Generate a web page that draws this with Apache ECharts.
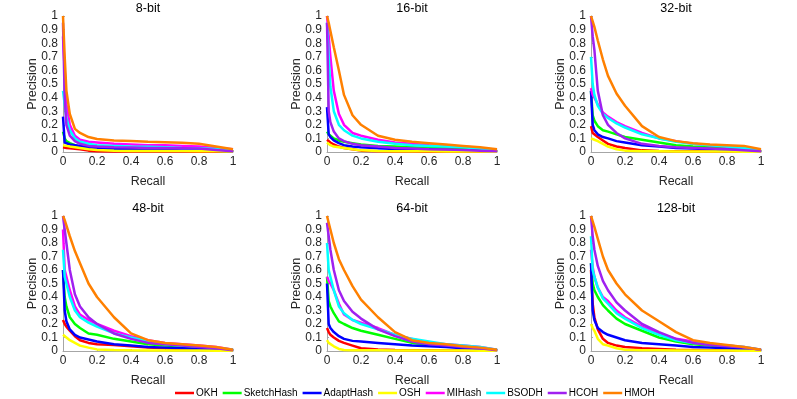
<!DOCTYPE html>
<html>
<head>
<meta charset="utf-8">
<script src="https://cdn.jsdelivr.net/npm/echarts@6/dist/echarts.min.js"></script>
<style>
  html, body { margin: 0; padding: 0; background: #fff; }
  #chart { width: 797px; height: 399px; }
</style>
</head>
<body>
<div id="chart"></div>
<script>
const recall = [0, 0.01, 0.02, 0.04, 0.07, 0.1, 0.15, 0.2, 0.3, 0.4, 0.5, 0.6, 0.7, 0.8, 0.9, 1]
const methods = ['OKH', 'SketchHash', 'AdaptHash', 'OSH', 'MIHash', 'BSODH', 'HCOH', 'HMOH']
const panelTitles = ['8-bit', '16-bit', '32-bit', '48-bit', '64-bit', '128-bit']

// precision per method, same order as methods
const bits8 = [
  [0.035, 0.033, 0.03, 0.027, 0.023, 0.02, 0.01, 0.005, 0.004, 0.003, 0.003, 0.003, 0.003, 0.002, 0.002, 0.001],
  [0.15, 0.1, 0.08, 0.065, 0.05, 0.04, 0.03, 0.025, 0.02, 0.018, 0.016, 0.015, 0.013, 0.012, 0.01, 0.005],
  [0.26, 0.07, 0.06, 0.055, 0.05, 0.045, 0.035, 0.03, 0.025, 0.02, 0.02, 0.018, 0.016, 0.014, 0.01, 0.005],
  [0.05, 0.048, 0.045, 0.04, 0.035, 0.03, 0.02, 0.015, 0.01, 0.008, 0.008, 0.007, 0.007, 0.006, 0.005, 0.003],
  [0.85, 0.6, 0.35, 0.2, 0.12, 0.09, 0.075, 0.07, 0.06, 0.055, 0.05, 0.05, 0.045, 0.04, 0.03, 0.02],
  [0.45, 0.35, 0.25, 0.16, 0.1, 0.075, 0.06, 0.05, 0.045, 0.04, 0.038, 0.035, 0.03, 0.028, 0.022, 0.01],
  [0.95, 0.4, 0.2, 0.12, 0.08, 0.06, 0.045, 0.04, 0.035, 0.033, 0.03, 0.03, 0.028, 0.025, 0.015, 0.005],
  [1, 0.7, 0.45, 0.28, 0.17, 0.14, 0.11, 0.095, 0.085, 0.08, 0.075, 0.072, 0.068, 0.06, 0.04, 0.02]
]
const bits16 = [
  [0.09, 0.08, 0.07, 0.055, 0.04, 0.03, 0.02, 0.01, 0.005, 0.003, 0.003, 0.002, 0.002, 0.002, 0.002, 0.001],
  [0.15, 0.13, 0.12, 0.1, 0.085, 0.075, 0.065, 0.055, 0.045, 0.04, 0.035, 0.03, 0.028, 0.025, 0.02, 0.01],
  [0.33, 0.13, 0.11, 0.085, 0.065, 0.05, 0.04, 0.035, 0.028, 0.022, 0.02, 0.018, 0.015, 0.012, 0.01, 0.005],
  [0.07, 0.06, 0.05, 0.04, 0.035, 0.03, 0.02, 0.012, 0.008, 0.006, 0.005, 0.005, 0.004, 0.004, 0.003, 0.002],
  [1, 0.85, 0.7, 0.45, 0.28, 0.2, 0.14, 0.12, 0.09, 0.07, 0.06, 0.05, 0.045, 0.04, 0.03, 0.015],
  [0.95, 0.7, 0.48, 0.3, 0.2, 0.16, 0.12, 0.1, 0.075, 0.06, 0.05, 0.045, 0.04, 0.035, 0.025, 0.01],
  [0.95, 0.3, 0.22, 0.15, 0.1, 0.08, 0.06, 0.05, 0.04, 0.03, 0.025, 0.02, 0.018, 0.015, 0.01, 0.005],
  [1, 0.95, 0.89, 0.77, 0.6, 0.42, 0.27, 0.2, 0.12, 0.09, 0.075, 0.065, 0.055, 0.045, 0.035, 0.02]
]
const bits32 = [
  [0.19, 0.14, 0.13, 0.11, 0.085, 0.06, 0.04, 0.03, 0.012, 0.008, 0.006, 0.005, 0.004, 0.003, 0.002, 0.001],
  [0.45, 0.27, 0.23, 0.19, 0.16, 0.15, 0.13, 0.11, 0.09, 0.07, 0.05, 0.04, 0.035, 0.03, 0.02, 0.01],
  [0.45, 0.2, 0.16, 0.13, 0.11, 0.1, 0.08, 0.07, 0.05, 0.04, 0.03, 0.025, 0.02, 0.015, 0.01, 0.005],
  [0.1, 0.095, 0.09, 0.08, 0.06, 0.04, 0.02, 0.01, 0.006, 0.005, 0.004, 0.004, 0.003, 0.003, 0.002, 0.001],
  [0.47, 0.42, 0.4, 0.35, 0.29, 0.26, 0.22, 0.19, 0.14, 0.1, 0.08, 0.06, 0.05, 0.04, 0.03, 0.01],
  [0.7, 0.5, 0.42, 0.34, 0.28, 0.25, 0.21, 0.18, 0.13, 0.1, 0.075, 0.06, 0.05, 0.04, 0.03, 0.01],
  [1, 0.85, 0.75, 0.45, 0.27, 0.2, 0.14, 0.1, 0.06, 0.045, 0.035, 0.03, 0.025, 0.02, 0.012, 0.005],
  [1, 0.96, 0.92, 0.82, 0.68, 0.56, 0.43, 0.34, 0.19, 0.11, 0.08, 0.065, 0.055, 0.05, 0.045, 0.02]
]
const bits48 = [
  [0.23, 0.2, 0.18, 0.15, 0.11, 0.08, 0.06, 0.05, 0.045, 0.035, 0.025, 0.02, 0.015, 0.01, 0.008, 0.005],
  [0.6, 0.4, 0.33, 0.25, 0.2, 0.17, 0.13, 0.12, 0.09, 0.07, 0.05, 0.04, 0.035, 0.03, 0.02, 0.01],
  [0.6, 0.3, 0.22, 0.16, 0.12, 0.1, 0.085, 0.07, 0.05, 0.04, 0.03, 0.025, 0.02, 0.015, 0.01, 0.005],
  [0.12, 0.11, 0.1, 0.08, 0.06, 0.04, 0.025, 0.012, 0.008, 0.005, 0.004, 0.004, 0.003, 0.003, 0.002, 0.001],
  [0.9, 0.6, 0.55, 0.45, 0.33, 0.27, 0.23, 0.2, 0.15, 0.11, 0.08, 0.06, 0.05, 0.04, 0.03, 0.01],
  [0.75, 0.55, 0.5, 0.4, 0.3, 0.25, 0.21, 0.18, 0.13, 0.1, 0.07, 0.05, 0.04, 0.035, 0.025, 0.01],
  [1, 0.9, 0.8, 0.6, 0.42, 0.33, 0.25, 0.2, 0.13, 0.09, 0.06, 0.05, 0.04, 0.03, 0.02, 0.005],
  [1, 0.97, 0.93, 0.85, 0.74, 0.65, 0.5, 0.4, 0.25, 0.13, 0.08, 0.06, 0.05, 0.04, 0.03, 0.01]
]
const bits64 = [
  [0.17, 0.14, 0.12, 0.1, 0.075, 0.06, 0.04, 0.02, 0.012, 0.008, 0.006, 0.005, 0.004, 0.003, 0.002, 0.001],
  [0.55, 0.37, 0.33, 0.28, 0.22, 0.2, 0.17, 0.15, 0.12, 0.09, 0.06, 0.05, 0.04, 0.03, 0.02, 0.01],
  [0.5, 0.2, 0.17, 0.14, 0.11, 0.09, 0.075, 0.07, 0.06, 0.05, 0.04, 0.035, 0.03, 0.02, 0.015, 0.005],
  [0.08, 0.06, 0.05, 0.035, 0.015, 0.008, 0.006, 0.005, 0.005, 0.004, 0.004, 0.004, 0.003, 0.003, 0.002, 0.001],
  [0.55, 0.52, 0.5, 0.45, 0.35, 0.27, 0.23, 0.21, 0.17, 0.12, 0.09, 0.06, 0.05, 0.04, 0.03, 0.01],
  [0.8, 0.6, 0.55, 0.45, 0.33, 0.28, 0.23, 0.2, 0.16, 0.12, 0.09, 0.07, 0.05, 0.04, 0.03, 0.01],
  [0.95, 0.85, 0.75, 0.6, 0.45, 0.37, 0.29, 0.24, 0.16, 0.11, 0.07, 0.05, 0.04, 0.03, 0.02, 0.005],
  [1, 0.95, 0.9, 0.8, 0.68, 0.6, 0.48, 0.38, 0.25, 0.14, 0.08, 0.06, 0.05, 0.035, 0.025, 0.01]
]
const bits128 = [
  [0.6, 0.35, 0.25, 0.16, 0.09, 0.06, 0.04, 0.03, 0.02, 0.015, 0.01, 0.008, 0.006, 0.005, 0.004, 0.002],
  [0.65, 0.5, 0.45, 0.4, 0.34, 0.3, 0.24, 0.2, 0.15, 0.1, 0.07, 0.05, 0.04, 0.03, 0.02, 0.01],
  [0.65, 0.3, 0.23, 0.17, 0.14, 0.12, 0.1, 0.08, 0.06, 0.05, 0.04, 0.03, 0.025, 0.02, 0.015, 0.005],
  [0.2, 0.17, 0.15, 0.09, 0.05, 0.04, 0.02, 0.01, 0.006, 0.005, 0.004, 0.004, 0.003, 0.003, 0.002, 0.001],
  [0.75, 0.62, 0.55, 0.47, 0.4, 0.37, 0.3, 0.25, 0.18, 0.13, 0.09, 0.07, 0.05, 0.04, 0.03, 0.01],
  [0.85, 0.6, 0.55, 0.47, 0.39, 0.35, 0.28, 0.24, 0.17, 0.12, 0.08, 0.06, 0.05, 0.04, 0.03, 0.01],
  [1, 0.85, 0.75, 0.63, 0.52, 0.45, 0.36, 0.3, 0.2, 0.14, 0.09, 0.06, 0.045, 0.035, 0.025, 0.01],
  [1, 0.96, 0.92, 0.83, 0.7, 0.6, 0.5, 0.42, 0.3, 0.22, 0.14, 0.08, 0.06, 0.045, 0.03, 0.01]
]
const panels = [bits8, bits16, bits32, bits48, bits64, bits128]

const lineColors = ['#ff0000', '#00ff00', '#0000ff', '#ffff00', '#ff00ff', '#00ffff', '#a020f0', '#ff8000']
const font = 'Liberation Sans, Arial, Helvetica, sans-serif'
const gridLefts = [63, 327, 591]
const gridTops = [16, 216]

const grids = []
const xAxes = []
const yAxes = []
const titles = []
const series = []

const fmt = (v) => String(+v.toFixed(1))

panels.forEach((panel, i) => {
  const col = i % 3
  const row = Math.floor(i / 3)
  grids.push({ left: gridLefts[col], top: gridTops[row], width: 170, height: 136 - row })
  titles.push({
    text: panelTitles[i],
    left: gridLefts[col] + 85,
    top: gridTops[row] - 14,
    padding: 0,
    textAlign: 'center',
    textStyle: { fontFamily: font, fontSize: 12.5, fontWeight: 'normal', color: '#000' }
  })
  xAxes.push({
    type: 'value',
    gridIndex: i,
    min: 0,
    max: 1,
    interval: 0.2,
    name: 'Recall',
    nameLocation: 'middle',
    nameGap: 23,
    nameMoveOverlap: false,
    nameTextStyle: { fontFamily: font, fontSize: 12.5, color: '#262626' },
    axisLine: { lineStyle: { color: '#a6a6a6' } },
    axisTick: { show: true, inside: true, length: 2, lineStyle: { color: '#a6a6a6' } },
    splitLine: { show: false },
    axisLabel: { fontFamily: font, fontSize: 12, color: '#262626', margin: 4, formatter: fmt }
  })
  yAxes.push({
    type: 'value',
    gridIndex: i,
    min: 0,
    max: 1,
    interval: 0.1,
    name: 'Precision',
    nameLocation: 'middle',
    nameGap: 24,
    nameMoveOverlap: false,
    nameTextStyle: { fontFamily: font, fontSize: 12.5, color: '#262626' },
    axisLine: { show: true, lineStyle: { color: '#a6a6a6' } },
    axisTick: { show: true, inside: true, length: 2, lineStyle: { color: '#a6a6a6' } },
    splitLine: { show: false },
    axisLabel: { fontFamily: font, fontSize: 12, color: '#262626', margin: 5, formatter: fmt }
  })
  panel.forEach((vals, m) => {
    series.push({
      name: methods[m],
      type: 'line',
      xAxisIndex: i,
      yAxisIndex: i,
      data: recall.map((r, k) => [r, vals[k]]),
      symbol: 'none',
      smooth: false,
      lineStyle: { color: lineColors[m], width: 2.5 },
      itemStyle: { color: lineColors[m] },
      animation: false
    })
  })
})

const chart = echarts.init(document.getElementById('chart'))
chart.setOption({
  animation: false,
  title: titles,
  grid: grids,
  xAxis: xAxes,
  yAxis: yAxes,
  legend: {
    data: methods,
    left: 175,
    top: 388,
    icon: 'rect',
    itemWidth: 19,
    itemHeight: 2.5,
    itemGap: 5,
    padding: 0,
    textStyle: { fontFamily: font, fontSize: 10, color: '#000', padding: [0, 0, 0, -3] }
  },
  series: series
})
</script>
</body>
</html>
